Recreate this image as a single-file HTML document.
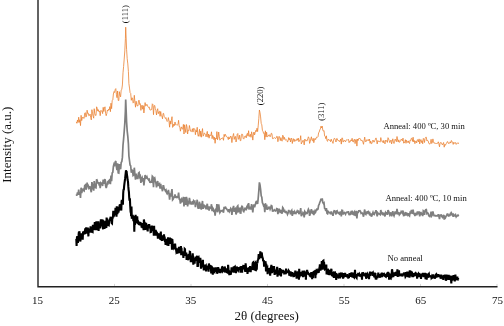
<!DOCTYPE html>
<html><head><meta charset="utf-8"><title>XRD</title>
<style>
html,body{margin:0;padding:0;background:#fff;}
body{width:504px;height:326px;overflow:hidden;font-family:"Liberation Serif",serif;}
svg{display:block}
text{font-family:"Liberation Serif",serif;fill:#111}
</style></head><body>
<svg width="504" height="326" viewBox="0 0 504 326">
<rect width="504" height="326" fill="#fff"/>
<g fill="none" stroke-linejoin="miter" stroke-miterlimit="3">
<polyline points="76.3,194.3 76.9,195.7 77.5,192.4 78.1,194.8 78.7,189.6 79.3,194.8 79.9,192.1 80.5,198.0 81.1,187.7 81.7,193.0 82.3,190.2 82.9,189.4 83.5,190.5 84.1,190.9 84.7,185.6 85.3,185.0 85.9,189.5 86.5,188.5 87.1,182.6 87.7,186.0 88.3,185.6 88.9,188.3 89.5,187.7 90.1,186.5 90.7,189.9 91.3,192.3 91.9,182.1 92.5,185.7 93.1,188.6 93.7,190.6 94.2,181.1 94.8,185.9 95.4,187.7 96.0,187.9 96.6,179.2 97.2,180.6 97.8,183.5 98.4,182.1 99.0,184.3 99.6,183.6 100.2,188.1 100.8,182.9 101.4,183.5 102.0,183.1 102.6,186.0 103.2,179.7 103.8,183.9 104.4,180.5 105.0,179.2 105.6,185.7 106.2,188.1 106.8,185.9 107.4,182.4 108.0,183.3 108.6,181.5 109.2,182.3 109.8,179.0 110.4,184.1 111.0,175.6 111.6,181.1 112.2,173.0 112.8,172.4 113.4,166.4 114.0,164.0 114.6,164.9 115.2,162.0 115.8,161.0 116.4,166.8 117.0,170.1 117.6,163.4 118.2,172.8 118.8,173.0 119.4,164.1 120.0,167.6 120.6,169.2 121.2,162.4 121.8,161.7 122.4,157.4 123.0,145.2 123.6,138.9 124.2,131.5 124.8,123.3 125.4,111.0 125.7,99.6 126.6,122.1 127.2,131.1 127.8,136.3 128.4,143.8 128.9,156.0 129.5,160.5 130.1,165.1 130.7,165.8 131.3,172.7 131.9,170.0 132.5,170.6 133.1,175.5 133.7,174.9 134.3,167.7 134.9,174.2 135.5,179.6 136.1,173.6 136.7,176.8 137.3,178.4 137.9,178.4 138.5,173.1 139.1,172.5 139.7,176.9 140.3,176.1 140.9,182.8 141.5,178.5 142.1,177.5 142.7,181.6 143.3,178.1 143.9,185.4 144.5,180.2 145.1,175.0 145.7,178.3 146.3,177.9 146.9,176.7 147.5,178.6 148.1,178.9 148.7,180.1 149.3,179.5 149.9,182.3 150.5,182.4 151.1,181.9 151.7,182.1 152.3,176.2 152.9,176.9 153.5,187.1 154.1,178.3 154.7,177.8 155.3,180.9 155.9,182.9 156.5,187.4 157.1,183.2 157.7,181.1 158.3,186.1 158.9,184.2 159.5,183.7 160.1,188.7 160.7,183.9 161.3,188.0 161.9,188.4 162.5,191.2 163.1,185.8 163.6,185.8 164.2,188.8 164.8,189.6 165.4,190.9 166.0,190.1 166.6,192.8 167.2,193.9 167.8,193.0 168.4,190.0 169.0,193.5 169.6,199.6 170.2,193.3 170.8,196.5 171.4,192.7 172.0,189.1 172.6,199.8 173.2,199.1 173.8,196.4 174.4,198.0 175.0,194.4 175.6,197.1 176.2,197.5 176.8,196.9 177.4,197.4 178.0,196.8 178.6,192.7 179.2,198.9 179.8,199.0 180.4,203.6 181.0,200.6 181.6,199.3 182.2,201.6 182.8,201.3 183.4,196.8 184.0,206.4 184.6,197.2 185.2,201.2 185.8,204.9 186.4,196.9 187.0,199.2 187.6,206.4 188.2,202.3 188.8,203.0 189.4,197.9 190.0,201.0 190.6,203.7 191.2,204.0 191.8,203.6 192.4,201.1 193.0,204.5 193.6,200.8 194.2,201.5 194.8,201.2 195.4,207.1 196.0,202.7 196.6,204.4 197.2,199.7 197.8,207.0 198.3,208.7 198.9,206.3 199.5,201.7 200.1,208.8 200.7,203.5 201.3,209.6 201.9,205.0 202.5,201.0 203.1,208.6 203.7,207.6 204.3,205.4 204.9,205.9 205.5,206.7 206.1,209.3 206.7,205.9 207.3,203.8 207.9,209.6 208.5,206.4 209.1,210.6 209.7,207.3 210.3,207.6 210.9,208.1 211.5,204.2 212.1,211.1 212.7,207.8 213.3,208.8 213.9,212.1 214.5,209.7 215.1,215.7 215.7,210.4 216.3,211.3 216.9,204.0 217.5,212.2 218.1,209.8 218.7,204.4 219.3,209.1 219.9,212.6 220.5,211.6 221.1,210.8 221.7,211.0 222.3,210.3 222.9,210.3 223.5,212.7 224.1,206.8 224.7,209.0 225.3,206.7 225.9,208.1 226.5,208.6 227.1,209.8 227.7,210.0 228.3,212.0 228.9,209.2 229.5,211.4 230.1,210.2 230.7,208.4 231.3,209.4 231.9,215.0 232.5,209.8 233.0,208.1 233.6,205.9 234.2,211.8 234.8,209.3 235.4,208.7 236.0,214.4 236.6,212.5 237.2,206.6 237.8,205.9 238.4,211.6 239.0,211.3 239.6,207.6 240.2,213.0 240.8,213.1 241.4,207.5 242.0,206.3 242.6,207.0 243.2,210.8 243.8,211.5 244.4,209.8 245.0,208.3 245.6,208.4 246.2,210.3 246.8,206.8 247.4,205.7 248.0,208.6 248.6,203.1 249.2,208.8 249.8,208.6 250.4,206.7 251.0,209.7 251.6,204.2 252.2,207.2 252.8,212.5 253.4,206.4 254.0,204.4 254.6,207.3 255.2,204.9 255.8,202.8 256.4,203.9 257.0,200.6 257.6,204.0 258.2,198.3 258.8,191.1 259.4,182.4 260.0,185.0 260.6,189.3 261.2,195.8 261.8,197.2 262.4,202.7 263.0,203.9 263.6,205.7 264.2,205.2 264.8,212.1 265.4,203.2 266.0,209.5 266.6,204.6 267.2,209.1 267.7,209.1 268.3,208.4 268.9,207.2 269.5,207.3 270.1,209.2 270.7,207.8 271.3,205.6 271.9,206.0 272.5,211.0 273.1,211.1 273.7,210.7 274.3,209.9 274.9,210.6 275.5,210.9 276.1,210.5 276.7,208.7 277.3,208.9 277.9,214.1 278.5,210.7 279.1,208.7 279.7,210.2 280.3,213.0 280.9,210.0 281.5,212.5 282.1,213.6 282.7,207.6 283.3,208.4 283.9,211.9 284.5,209.8 285.1,212.1 285.7,212.5 286.3,211.9 286.9,212.8 287.5,214.5 288.1,213.1 288.7,210.0 289.3,212.2 289.9,210.7 290.5,214.4 291.1,211.4 291.7,210.5 292.3,215.9 292.9,212.6 293.5,211.1 294.1,214.0 294.7,211.8 295.3,213.1 295.9,213.5 296.5,212.4 297.1,211.1 297.7,212.7 298.3,210.5 298.9,214.2 299.5,212.7 300.1,212.6 300.7,208.1 301.3,216.3 301.9,214.8 302.4,214.5 303.0,212.6 303.6,213.5 304.2,217.3 304.8,211.4 305.4,212.3 306.0,213.6 306.6,212.8 307.2,213.2 307.8,211.0 308.4,209.2 309.0,210.5 309.6,215.8 310.2,214.1 310.8,211.3 311.4,209.2 312.0,212.8 312.6,213.3 313.2,210.7 313.8,215.1 314.4,212.4 315.0,210.8 315.6,212.0 316.2,210.3 316.8,209.3 317.4,209.7 318.0,209.1 318.6,205.3 319.2,204.4 319.8,202.3 320.4,201.3 321.0,198.6 321.6,200.4 322.2,198.5 322.8,202.5 323.4,203.5 324.0,202.9 324.6,208.3 325.2,208.7 325.8,211.1 326.4,208.2 327.0,213.2 327.6,213.7 328.2,211.5 328.8,212.2 329.4,212.6 330.0,212.6 330.6,214.1 331.2,211.5 331.8,213.6 332.4,214.0 333.0,215.8 333.6,211.9 334.2,210.8 334.8,210.9 335.4,212.7 336.0,214.4 336.6,211.1 337.1,210.8 337.7,212.7 338.3,213.1 338.9,212.6 339.5,214.1 340.1,213.5 340.7,211.4 341.3,216.5 341.9,210.3 342.5,210.5 343.1,214.5 343.7,213.2 344.3,212.6 344.9,213.4 345.5,214.3 346.1,212.5 346.7,212.2 347.3,212.5 347.9,211.9 348.5,211.9 349.1,215.1 349.7,213.7 350.3,214.1 350.9,212.3 351.5,213.2 352.1,210.7 352.7,214.0 353.3,214.4 353.9,212.3 354.5,211.6 355.1,216.0 355.7,212.1 356.3,211.8 356.9,218.5 357.5,211.4 358.1,213.0 358.7,210.9 359.3,210.9 359.9,210.7 360.5,211.5 361.1,213.3 361.7,212.8 362.3,212.9 362.9,214.4 363.5,216.7 364.1,213.0 364.7,209.5 365.3,213.8 365.9,214.4 366.5,212.4 367.1,212.0 367.7,212.9 368.3,211.9 368.9,213.2 369.5,211.5 370.1,215.7 370.7,213.5 371.3,216.1 371.8,216.0 372.4,214.0 373.0,212.4 373.6,214.2 374.2,214.5 374.8,212.9 375.4,211.8 376.0,210.3 376.6,213.1 377.2,216.3 377.8,212.9 378.4,213.8 379.0,213.8 379.6,214.0 380.2,214.5 380.8,210.0 381.4,213.0 382.0,213.9 382.6,213.2 383.2,215.3 383.8,212.8 384.4,214.9 385.0,216.3 385.6,212.6 386.2,213.5 386.8,213.0 387.4,214.8 388.0,210.1 388.6,211.2 389.2,213.1 389.8,215.0 390.4,213.8 391.0,212.4 391.6,216.3 392.2,213.9 392.8,211.2 393.4,214.6 394.0,215.9 394.6,213.7 395.2,211.5 395.8,213.0 396.4,214.1 397.0,208.9 397.6,212.4 398.2,214.4 398.8,212.2 399.4,214.8 400.0,214.1 400.6,213.2 401.2,211.5 401.8,212.3 402.4,213.2 403.0,210.5 403.6,215.5 404.2,215.4 404.8,214.2 405.4,212.1 406.0,215.7 406.5,212.7 407.1,213.8 407.7,214.9 408.3,213.3 408.9,215.3 409.5,215.9 410.1,212.5 410.7,212.9 411.3,210.7 411.9,210.7 412.5,213.8 413.1,209.6 413.7,214.3 414.3,212.9 414.9,216.1 415.5,213.7 416.1,213.4 416.7,215.3 417.3,212.2 417.9,212.2 418.5,214.3 419.1,211.3 419.7,216.3 420.3,213.8 420.9,211.9 421.5,214.9 422.1,213.1 422.7,216.2 423.3,210.8 423.9,211.4 424.5,214.9 425.1,210.7 425.7,209.7 426.3,209.6 426.9,213.4 427.5,212.8 428.1,213.2 428.7,215.4 429.3,216.3 429.9,216.6 430.5,214.9 431.1,211.7 431.7,215.9 432.3,215.0 432.9,211.3 433.5,214.2 434.1,215.7 434.7,215.4 435.3,215.8 435.9,215.7 436.5,215.9 437.1,215.8 437.7,215.7 438.3,214.2 438.9,216.2 439.5,219.2 440.1,215.2 440.7,215.0 441.2,214.9 441.8,216.3 442.4,217.3 443.0,216.1 443.6,214.9 444.2,219.6 444.8,216.8 445.4,217.7 446.0,216.3 446.6,215.6 447.2,214.1 447.8,214.1 448.4,215.9 449.0,215.4 449.6,215.6 450.2,214.2 450.8,215.5 451.4,212.9 452.0,213.9 452.6,214.5 453.2,216.8 453.8,214.7 454.4,215.5 455.0,215.9 455.6,214.9 456.2,216.8 456.8,215.9 457.4,215.7 458.0,215.1 458.6,216.3" stroke="#7f7f7f" stroke-width="1.7"/>
<polyline points="76.3,194.3 76.9,195.7 77.5,192.4 78.1,194.8 78.7,189.6 79.3,194.8 79.9,192.1 80.5,198.0 81.1,187.7 81.7,193.0 82.3,190.2 82.9,189.4 83.5,190.5 84.1,190.9 84.7,185.6 85.3,185.0 85.9,189.5 86.5,188.5 87.1,182.6 87.7,186.0 88.3,185.6 88.9,188.3 89.5,187.7 90.1,186.5 90.7,189.9 91.3,192.3 91.9,182.1 92.5,185.7 93.1,188.6 93.7,190.6 94.2,181.1 94.8,185.9 95.4,187.7 96.0,187.9 96.6,179.2 97.2,180.6 97.8,183.5 98.4,182.1 99.0,184.3 99.6,183.6 100.2,188.1 100.8,182.9 101.4,183.5 102.0,183.1 102.6,186.0 103.2,179.7 103.8,183.9 104.4,180.5 105.0,179.2 105.6,185.7 106.2,188.1 106.8,185.9 107.4,182.4 108.0,183.3 108.6,181.5 109.2,182.3 109.8,179.0 110.4,184.1 111.0,175.6 111.6,181.1 112.2,173.0 112.8,172.4 113.4,166.4 114.0,164.0 114.6,164.9 115.2,162.0 115.8,161.0 116.4,166.8 117.0,170.1 117.6,163.4 118.2,172.8 118.8,173.0 119.4,164.1 120.0,167.6 120.6,169.2 121.2,162.4 121.8,161.7 122.4,157.4 123.0,145.2 123.6,138.9 124.2,131.5 124.8,123.3 125.4,111.0 125.7,99.6 126.6,122.1 127.2,131.1 127.8,136.3 128.4,143.8 128.9,156.0 129.5,160.5 130.1,165.1 130.7,165.8 131.3,172.7 131.9,170.0 132.5,170.6 133.1,175.5 133.7,174.9 134.3,167.7 134.9,174.2 135.5,179.6 136.1,173.6 136.7,176.8 137.3,178.4 137.9,178.4 138.5,173.1 139.1,172.5 139.7,176.9 140.3,176.1 140.9,182.8 141.5,178.5 142.1,177.5 142.7,181.6 143.3,178.1 143.9,185.4 144.5,180.2 145.1,175.0 145.7,178.3 146.3,177.9 146.9,176.7 147.5,178.6 148.1,178.9 148.7,180.1 149.3,179.5 149.9,182.3 150.5,182.4 151.1,181.9 151.7,182.1 152.3,176.2 152.9,176.9 153.5,187.1 154.1,178.3 154.7,177.8 155.3,180.9 155.9,182.9 156.5,187.4 157.1,183.2 157.7,181.1 158.3,186.1 158.9,184.2 159.5,183.7 160.1,188.7 160.7,183.9 161.3,188.0 161.9,188.4 162.5,191.2 163.1,185.8 163.6,185.8 164.2,188.8 164.8,189.6 165.4,190.9 166.0,190.1 166.6,192.8 167.2,193.9 167.8,193.0 168.4,190.0 169.0,193.5 169.6,199.6 170.2,193.3 170.8,196.5 171.4,192.7 172.0,189.1 172.6,199.8 173.2,199.1 173.8,196.4 174.4,198.0 175.0,194.4 175.6,197.1 176.2,197.5 176.8,196.9 177.4,197.4 178.0,196.8 178.6,192.7 179.2,198.9 179.8,199.0 180.4,203.6 181.0,200.6 181.6,199.3 182.2,201.6 182.8,201.3 183.4,196.8 184.0,206.4 184.6,197.2 185.2,201.2 185.8,204.9 186.4,196.9 187.0,199.2 187.6,206.4 188.2,202.3 188.8,203.0 189.4,197.9 190.0,201.0 190.6,203.7 191.2,204.0 191.8,203.6 192.4,201.1 193.0,204.5 193.6,200.8 194.2,201.5 194.8,201.2 195.4,207.1 196.0,202.7 196.6,204.4 197.2,199.7 197.8,207.0 198.3,208.7 198.9,206.3 199.5,201.7 200.1,208.8 200.7,203.5 201.3,209.6 201.9,205.0 202.5,201.0 203.1,208.6 203.7,207.6 204.3,205.4 204.9,205.9 205.5,206.7 206.1,209.3 206.7,205.9 207.3,203.8 207.9,209.6 208.5,206.4 209.1,210.6 209.7,207.3 210.3,207.6 210.9,208.1 211.5,204.2 212.1,211.1 212.7,207.8 213.3,208.8 213.9,212.1 214.5,209.7 215.1,215.7 215.7,210.4 216.3,211.3 216.9,204.0 217.5,212.2 218.1,209.8 218.7,204.4 219.3,209.1 219.9,212.6 220.5,211.6 221.1,210.8 221.7,211.0 222.3,210.3 222.9,210.3 223.5,212.7 224.1,206.8 224.7,209.0 225.3,206.7 225.9,208.1 226.5,208.6 227.1,209.8 227.7,210.0 228.3,212.0 228.9,209.2 229.5,211.4 230.1,210.2 230.7,208.4 231.3,209.4 231.9,215.0 232.5,209.8 233.0,208.1 233.6,205.9 234.2,211.8 234.8,209.3 235.4,208.7 236.0,214.4 236.6,212.5 237.2,206.6 237.8,205.9 238.4,211.6 239.0,211.3 239.6,207.6 240.2,213.0 240.8,213.1 241.4,207.5 242.0,206.3 242.6,207.0 243.2,210.8 243.8,211.5 244.4,209.8 245.0,208.3 245.6,208.4 246.2,210.3 246.8,206.8 247.4,205.7 248.0,208.6 248.6,203.1 249.2,208.8 249.8,208.6 250.4,206.7 251.0,209.7 251.6,204.2 252.2,207.2 252.8,212.5 253.4,206.4 254.0,204.4 254.6,207.3 255.2,204.9 255.8,202.8 256.4,203.9 257.0,200.6 257.6,204.0 258.2,198.3 258.8,191.1 259.4,182.4 260.0,185.0 260.6,189.3 261.2,195.8 261.8,197.2 262.4,202.7 263.0,203.9 263.6,205.7 264.2,205.2 264.8,212.1 265.4,203.2 266.0,209.5 266.6,204.6 267.2,209.1 267.7,209.1 268.3,208.4 268.9,207.2 269.5,207.3 270.1,209.2 270.7,207.8 271.3,205.6 271.9,206.0 272.5,211.0 273.1,211.1 273.7,210.7 274.3,209.9 274.9,210.6 275.5,210.9 276.1,210.5 276.7,208.7 277.3,208.9 277.9,214.1 278.5,210.7 279.1,208.7 279.7,210.2 280.3,213.0 280.9,210.0 281.5,212.5 282.1,213.6 282.7,207.6 283.3,208.4 283.9,211.9 284.5,209.8 285.1,212.1 285.7,212.5 286.3,211.9 286.9,212.8 287.5,214.5 288.1,213.1 288.7,210.0 289.3,212.2 289.9,210.7 290.5,214.4 291.1,211.4 291.7,210.5 292.3,215.9 292.9,212.6 293.5,211.1 294.1,214.0 294.7,211.8 295.3,213.1 295.9,213.5 296.5,212.4 297.1,211.1 297.7,212.7 298.3,210.5 298.9,214.2 299.5,212.7 300.1,212.6 300.7,208.1 301.3,216.3 301.9,214.8 302.4,214.5 303.0,212.6 303.6,213.5 304.2,217.3 304.8,211.4 305.4,212.3 306.0,213.6 306.6,212.8 307.2,213.2 307.8,211.0 308.4,209.2 309.0,210.5 309.6,215.8 310.2,214.1 310.8,211.3 311.4,209.2 312.0,212.8 312.6,213.3 313.2,210.7 313.8,215.1 314.4,212.4 315.0,210.8 315.6,212.0 316.2,210.3 316.8,209.3 317.4,209.7 318.0,209.1 318.6,205.3 319.2,204.4 319.8,202.3 320.4,201.3 321.0,198.6 321.6,200.4 322.2,198.5 322.8,202.5 323.4,203.5 324.0,202.9 324.6,208.3 325.2,208.7 325.8,211.1 326.4,208.2 327.0,213.2 327.6,213.7 328.2,211.5 328.8,212.2 329.4,212.6 330.0,212.6 330.6,214.1 331.2,211.5 331.8,213.6 332.4,214.0 333.0,215.8 333.6,211.9 334.2,210.8 334.8,210.9 335.4,212.7 336.0,214.4 336.6,211.1 337.1,210.8 337.7,212.7 338.3,213.1 338.9,212.6 339.5,214.1 340.1,213.5 340.7,211.4 341.3,216.5 341.9,210.3 342.5,210.5 343.1,214.5 343.7,213.2 344.3,212.6 344.9,213.4 345.5,214.3 346.1,212.5 346.7,212.2 347.3,212.5 347.9,211.9 348.5,211.9 349.1,215.1 349.7,213.7 350.3,214.1 350.9,212.3 351.5,213.2 352.1,210.7 352.7,214.0 353.3,214.4 353.9,212.3 354.5,211.6 355.1,216.0 355.7,212.1 356.3,211.8 356.9,218.5 357.5,211.4 358.1,213.0 358.7,210.9 359.3,210.9 359.9,210.7 360.5,211.5 361.1,213.3 361.7,212.8 362.3,212.9 362.9,214.4 363.5,216.7 364.1,213.0 364.7,209.5 365.3,213.8 365.9,214.4 366.5,212.4 367.1,212.0 367.7,212.9 368.3,211.9 368.9,213.2 369.5,211.5 370.1,215.7 370.7,213.5 371.3,216.1 371.8,216.0 372.4,214.0 373.0,212.4 373.6,214.2 374.2,214.5 374.8,212.9 375.4,211.8 376.0,210.3 376.6,213.1 377.2,216.3 377.8,212.9 378.4,213.8 379.0,213.8 379.6,214.0 380.2,214.5 380.8,210.0 381.4,213.0 382.0,213.9 382.6,213.2 383.2,215.3 383.8,212.8 384.4,214.9 385.0,216.3 385.6,212.6 386.2,213.5 386.8,213.0 387.4,214.8 388.0,210.1 388.6,211.2 389.2,213.1 389.8,215.0 390.4,213.8 391.0,212.4 391.6,216.3 392.2,213.9 392.8,211.2 393.4,214.6 394.0,215.9 394.6,213.7 395.2,211.5 395.8,213.0 396.4,214.1 397.0,208.9 397.6,212.4 398.2,214.4 398.8,212.2 399.4,214.8 400.0,214.1 400.6,213.2 401.2,211.5 401.8,212.3 402.4,213.2 403.0,210.5 403.6,215.5 404.2,215.4 404.8,214.2 405.4,212.1 406.0,215.7 406.5,212.7 407.1,213.8 407.7,214.9 408.3,213.3 408.9,215.3 409.5,215.9 410.1,212.5 410.7,212.9 411.3,210.7 411.9,210.7 412.5,213.8 413.1,209.6 413.7,214.3 414.3,212.9 414.9,216.1 415.5,213.7 416.1,213.4 416.7,215.3 417.3,212.2 417.9,212.2 418.5,214.3 419.1,211.3 419.7,216.3 420.3,213.8 420.9,211.9 421.5,214.9 422.1,213.1 422.7,216.2 423.3,210.8 423.9,211.4 424.5,214.9 425.1,210.7 425.7,209.7 426.3,209.6 426.9,213.4 427.5,212.8 428.1,213.2 428.7,215.4 429.3,216.3 429.9,216.6 430.5,214.9 431.1,211.7 431.7,215.9 432.3,215.0 432.9,211.3 433.5,214.2 434.1,215.7 434.7,215.4 435.3,215.8 435.9,215.7 436.5,215.9 437.1,215.8 437.7,215.7 438.3,214.2 438.9,216.2 439.5,219.2 440.1,215.2 440.7,215.0 441.2,214.9 441.8,216.3 442.4,217.3 443.0,216.1 443.6,214.9 444.2,219.6 444.8,216.8 445.4,217.7 446.0,216.3 446.6,215.6 447.2,214.1 447.8,214.1 448.4,215.9 449.0,215.4 449.6,215.6 450.2,214.2 450.8,215.5 451.4,212.9 452.0,213.9 452.6,214.5 453.2,216.8 453.8,214.7 454.4,215.5 455.0,215.9 455.6,214.9 456.2,216.8 456.8,215.9 457.4,215.7 458.0,215.1 458.6,216.3" transform="translate(0,-72.4)" stroke="#ea8232" stroke-width="0.8"/>
<polyline points="76.3,239.0 76.6,246.0 76.9,238.0 77.3,236.1 77.6,236.7 77.9,243.0 78.2,237.9 78.5,235.9 78.9,231.8 79.2,233.5 79.5,231.2 79.8,237.0 80.1,240.1 80.4,241.4 80.8,235.3 81.1,236.6 81.4,233.2 81.7,238.3 82.0,236.3 82.4,235.3 82.7,239.7 83.0,232.6 83.3,231.5 83.6,234.7 84.0,232.2 84.3,231.8 84.6,233.2 84.9,234.3 85.2,228.3 85.5,230.8 85.9,231.0 86.2,227.4 86.5,233.6 86.8,232.1 87.1,232.8 87.5,229.7 87.8,227.6 88.1,231.6 88.4,236.4 88.7,229.5 89.1,231.7 89.4,228.5 89.7,232.5 90.0,231.0 90.3,229.5 90.6,226.4 91.0,230.2 91.3,232.1 91.6,229.2 91.9,232.7 92.2,231.8 92.6,232.0 92.9,224.7 93.2,226.7 93.5,228.5 93.8,228.7 94.2,227.5 94.5,226.7 94.8,222.1 95.1,230.3 95.4,226.0 95.7,225.8 96.1,226.9 96.4,221.2 96.7,230.3 97.0,225.7 97.3,228.5 97.7,224.7 98.0,223.4 98.3,221.4 98.6,231.0 98.9,223.7 99.3,226.5 99.6,227.7 99.9,225.6 100.2,228.4 100.5,223.4 100.9,219.4 101.2,221.0 101.5,223.7 101.8,226.4 102.1,219.5 102.4,221.1 102.8,226.5 103.1,229.3 103.4,223.1 103.7,222.4 104.0,223.4 104.4,228.8 104.7,226.2 105.0,223.4 105.3,228.2 105.6,220.8 106.0,223.6 106.3,228.0 106.6,217.5 106.9,220.5 107.2,220.3 107.5,221.6 107.9,224.4 108.2,226.0 108.5,224.9 108.8,225.1 109.1,222.5 109.5,219.9 109.8,218.7 110.1,220.7 110.4,218.0 110.7,216.8 111.1,220.8 111.4,216.8 111.7,223.1 112.0,223.4 112.3,218.8 112.6,218.4 113.0,216.1 113.3,210.7 113.6,217.2 113.9,214.3 114.2,214.5 114.6,212.9 114.9,215.0 115.2,214.2 115.5,207.7 115.8,210.3 116.2,211.9 116.5,216.8 116.8,206.3 117.1,212.4 117.4,214.1 117.8,206.7 118.1,209.4 118.4,212.7 118.7,210.8 119.0,210.0 119.3,208.2 119.7,204.5 120.0,207.2 120.3,204.0 120.6,209.6 120.9,207.8 121.3,210.5 121.6,201.3 121.9,199.9 122.2,202.1 122.5,201.5 122.9,204.7 123.2,193.7 123.5,189.3 123.8,190.4 124.1,186.5 124.4,183.8 124.8,180.8 125.1,178.7 125.4,175.9 125.7,173.2 126.0,170.3 126.4,172.6 126.7,172.5 127.0,175.3 127.3,176.8 127.6,180.0 128.0,181.6 128.3,186.4 128.6,189.8 128.9,191.9 129.2,197.3 129.5,200.6 129.9,198.3 130.2,205.8 130.5,210.3 130.8,210.0 131.1,216.1 131.5,206.6 131.8,218.8 132.1,215.0 132.4,217.0 132.7,214.8 133.1,218.0 133.4,221.2 133.7,217.0 134.0,216.1 134.3,231.8 134.6,220.7 135.0,225.0 135.3,218.4 135.6,214.9 135.9,222.0 136.2,222.2 136.6,222.4 136.9,219.8 137.2,216.3 137.5,221.0 137.8,220.2 138.2,223.9 138.5,221.4 138.8,225.0 139.1,222.2 139.4,225.2 139.8,221.9 140.1,225.4 140.4,223.8 140.7,222.5 141.0,224.9 141.3,224.4 141.7,227.7 142.0,224.1 142.3,224.1 142.6,228.2 142.9,225.7 143.3,225.5 143.6,230.3 143.9,219.5 144.2,221.6 144.5,224.0 144.9,222.2 145.2,229.9 145.5,226.9 145.8,224.7 146.1,222.9 146.4,228.1 146.8,227.8 147.1,225.4 147.4,229.7 147.7,231.4 148.0,225.0 148.4,228.2 148.7,224.2 149.0,228.2 149.3,224.5 149.6,226.8 150.0,228.2 150.3,226.6 150.6,232.0 150.9,231.9 151.2,231.8 151.5,228.0 151.9,225.6 152.2,229.6 152.5,229.7 152.8,228.6 153.1,228.1 153.5,227.4 153.8,235.8 154.1,225.9 154.4,233.4 154.7,230.4 155.1,234.0 155.4,235.5 155.7,229.8 156.0,232.5 156.3,232.0 156.6,232.3 157.0,232.8 157.3,235.3 157.6,234.6 157.9,238.6 158.2,236.3 158.6,235.0 158.9,235.4 159.2,233.4 159.5,236.8 159.8,234.6 160.2,239.6 160.5,237.9 160.8,231.5 161.1,239.4 161.4,239.6 161.8,238.7 162.1,240.9 162.4,235.2 162.7,240.2 163.0,237.6 163.3,240.3 163.7,238.2 164.0,234.4 164.3,239.7 164.6,236.5 164.9,241.1 165.3,241.4 165.6,244.8 165.9,242.7 166.2,240.7 166.5,238.8 166.9,241.9 167.2,245.5 167.5,240.0 167.8,241.2 168.1,237.4 168.4,246.0 168.8,239.9 169.1,239.8 169.4,238.2 169.7,243.9 170.0,237.6 170.4,242.6 170.7,240.1 171.0,242.5 171.3,238.3 171.6,240.4 172.0,249.8 172.3,239.1 172.6,242.2 172.9,247.0 173.2,247.4 173.5,244.0 173.9,246.0 174.2,248.2 174.5,247.9 174.8,245.6 175.1,243.6 175.5,248.1 175.8,248.3 176.1,249.9 176.4,252.0 176.7,251.5 177.1,251.2 177.4,248.4 177.7,252.7 178.0,252.6 178.3,252.2 178.7,248.9 179.0,246.9 179.3,249.4 179.6,250.9 179.9,250.5 180.2,252.8 180.6,251.7 180.9,246.0 181.2,255.2 181.5,247.9 181.8,255.1 182.2,252.9 182.5,253.7 182.8,251.5 183.1,253.8 183.4,257.8 183.8,252.3 184.1,254.9 184.4,254.7 184.7,248.8 185.0,249.1 185.3,255.8 185.7,253.5 186.0,255.0 186.3,252.6 186.6,260.0 186.9,256.8 187.3,258.9 187.6,254.4 187.9,258.9 188.2,257.0 188.5,258.9 188.9,258.5 189.2,253.7 189.5,258.5 189.8,251.8 190.1,251.9 190.4,257.0 190.8,262.2 191.1,259.4 191.4,259.6 191.7,260.0 192.0,255.5 192.4,260.0 192.7,253.4 193.0,257.0 193.3,264.6 193.6,261.5 194.0,262.5 194.3,258.1 194.6,263.6 194.9,260.3 195.2,259.9 195.5,256.6 195.9,258.5 196.2,259.0 196.5,257.6 196.8,259.0 197.1,255.7 197.5,266.9 197.8,263.4 198.1,266.6 198.4,258.1 198.7,257.6 199.1,259.4 199.4,261.9 199.7,261.9 200.0,261.8 200.3,257.9 200.7,261.5 201.0,268.6 201.3,260.9 201.6,267.3 201.9,264.9 202.2,266.1 202.6,267.0 202.9,259.8 203.2,266.7 203.5,265.8 203.8,270.4 204.2,266.1 204.5,267.7 204.8,265.9 205.1,264.7 205.4,266.4 205.8,265.9 206.1,271.5 206.4,267.1 206.7,267.7 207.0,268.8 207.3,265.5 207.7,266.6 208.0,268.1 208.3,268.8 208.6,271.7 208.9,263.5 209.3,266.6 209.6,266.4 209.9,268.8 210.2,268.2 210.5,265.2 210.9,266.9 211.2,273.4 211.5,266.8 211.8,266.8 212.1,267.7 212.4,271.3 212.8,274.7 213.1,271.0 213.4,267.6 213.7,268.8 214.0,271.8 214.4,272.1 214.7,267.6 215.0,268.7 215.3,269.8 215.6,270.2 216.0,267.4 216.3,270.9 216.6,271.4 216.9,271.6 217.2,273.7 217.6,271.9 217.9,269.6 218.2,267.1 218.5,269.9 218.8,268.7 219.1,272.4 219.5,270.0 219.8,272.9 220.1,269.2 220.4,273.2 220.7,268.9 221.1,270.6 221.4,272.3 221.7,270.0 222.0,267.3 222.3,267.2 222.7,268.4 223.0,271.0 223.3,270.6 223.6,268.5 223.9,270.1 224.2,270.5 224.6,266.6 224.9,267.4 225.2,270.1 225.5,272.2 225.8,269.5 226.2,270.3 226.5,272.9 226.8,268.2 227.1,269.8 227.4,269.2 227.8,273.6 228.1,264.9 228.4,268.0 228.7,271.8 229.0,270.2 229.3,275.2 229.7,272.4 230.0,272.5 230.3,270.9 230.6,274.7 230.9,273.5 231.3,270.8 231.6,267.4 231.9,268.7 232.2,272.4 232.5,268.0 232.9,269.6 233.2,268.8 233.5,268.8 233.8,266.5 234.1,272.7 234.4,267.2 234.8,266.8 235.1,270.8 235.4,269.0 235.7,269.2 236.0,273.2 236.4,267.9 236.7,266.7 237.0,267.5 237.3,268.0 237.6,269.9 238.0,270.4 238.3,267.8 238.6,268.3 238.9,270.2 239.2,267.2 239.6,268.1 239.9,269.4 240.2,266.7 240.5,272.7 240.8,268.1 241.1,267.1 241.5,267.1 241.8,269.5 242.1,272.6 242.4,266.1 242.7,269.2 243.1,267.0 243.4,265.0 243.7,267.7 244.0,269.2 244.3,266.3 244.7,268.1 245.0,270.4 245.3,271.9 245.6,263.3 245.9,266.4 246.2,270.3 246.6,269.4 246.9,269.9 247.2,267.8 247.5,273.9 247.8,269.0 248.2,272.2 248.5,267.5 248.8,271.6 249.1,268.4 249.4,267.2 249.8,271.0 250.1,266.0 250.4,269.4 250.7,272.2 251.0,267.0 251.3,268.6 251.7,269.5 252.0,268.3 252.3,267.3 252.6,263.9 252.9,262.7 253.3,262.4 253.6,270.2 253.9,263.1 254.2,269.7 254.5,267.2 254.9,263.5 255.2,263.1 255.5,271.0 255.8,264.4 256.1,268.3 256.4,269.4 256.8,268.8 257.1,261.9 257.4,263.2 257.7,260.8 258.0,259.8 258.4,258.3 258.7,254.1 259.0,258.3 259.3,259.2 259.6,254.0 260.0,257.3 260.3,251.3 260.6,256.1 260.9,252.9 261.2,257.9 261.6,252.4 261.9,253.6 262.2,256.5 262.5,258.0 262.8,258.2 263.1,260.5 263.5,260.7 263.8,260.8 264.1,266.6 264.4,263.8 264.7,264.6 265.1,265.7 265.4,261.2 265.7,263.2 266.0,271.5 266.3,263.8 266.7,269.7 267.0,267.8 267.3,267.5 267.6,274.1 267.9,268.8 268.2,272.3 268.6,268.0 268.9,270.0 269.2,270.4 269.5,270.3 269.8,272.3 270.2,275.6 270.5,267.5 270.8,270.6 271.1,266.7 271.4,264.9 271.8,272.4 272.1,272.3 272.4,270.1 272.7,271.6 273.0,266.1 273.3,269.4 273.7,271.0 274.0,266.1 274.3,271.1 274.6,274.8 274.9,271.4 275.3,269.7 275.6,273.6 275.9,270.8 276.2,273.0 276.5,272.8 276.9,268.6 277.2,266.9 277.5,276.7 277.8,271.8 278.1,271.9 278.5,270.3 278.8,275.5 279.1,271.1 279.4,274.3 279.7,268.1 280.0,272.4 280.4,271.2 280.7,273.6 281.0,276.5 281.3,270.3 281.6,270.6 282.0,271.5 282.3,271.2 282.6,271.7 282.9,271.9 283.2,269.9 283.6,273.5 283.9,271.5 284.2,274.5 284.5,270.8 284.8,273.6 285.1,272.9 285.5,272.4 285.8,274.3 286.1,268.5 286.4,273.0 286.7,270.9 287.1,271.7 287.4,271.7 287.7,273.1 288.0,271.4 288.3,273.1 288.7,270.7 289.0,271.1 289.3,275.6 289.6,275.0 289.9,274.1 290.2,273.7 290.6,271.3 290.9,276.5 291.2,275.1 291.5,274.5 291.8,272.2 292.2,273.7 292.5,273.5 292.8,274.8 293.1,275.0 293.4,277.1 293.8,272.9 294.1,276.9 294.4,273.9 294.7,275.7 295.0,274.5 295.3,270.7 295.7,273.7 296.0,273.7 296.3,273.4 296.6,278.6 296.9,273.5 297.3,275.2 297.6,273.1 297.9,273.5 298.2,271.8 298.5,272.7 298.9,279.8 299.2,268.8 299.5,277.3 299.8,274.8 300.1,272.4 300.5,275.7 300.8,275.2 301.1,271.9 301.4,272.6 301.7,273.5 302.0,276.1 302.4,272.9 302.7,270.7 303.0,277.3 303.3,272.3 303.6,273.1 304.0,273.0 304.3,270.6 304.6,276.4 304.9,275.9 305.2,276.0 305.6,274.5 305.9,279.6 306.2,271.6 306.5,274.2 306.8,273.5 307.1,269.8 307.5,272.5 307.8,273.6 308.1,273.7 308.4,273.3 308.7,273.8 309.1,274.2 309.4,273.4 309.7,276.1 310.0,273.7 310.3,276.3 310.7,276.5 311.0,274.1 311.3,272.2 311.6,274.5 311.9,276.1 312.2,279.1 312.6,273.0 312.9,277.9 313.2,273.1 313.5,272.0 313.8,271.9 314.2,272.1 314.5,272.7 314.8,270.4 315.1,273.0 315.4,278.1 315.8,269.8 316.1,274.6 316.4,273.0 316.7,270.6 317.0,270.9 317.3,271.9 317.7,270.8 318.0,271.5 318.3,272.3 318.6,272.9 318.9,271.4 319.3,268.3 319.6,267.4 319.9,264.3 320.2,267.6 320.5,270.7 320.9,267.9 321.2,264.7 321.5,266.7 321.8,261.1 322.1,265.8 322.5,263.8 322.8,269.7 323.1,260.8 323.4,260.6 323.7,267.9 324.0,261.8 324.4,266.3 324.7,264.9 325.0,269.0 325.3,268.7 325.6,268.9 326.0,269.6 326.3,264.5 326.6,274.5 326.9,270.1 327.2,269.1 327.6,271.7 327.9,268.8 328.2,270.0 328.5,274.9 328.8,273.0 329.1,272.6 329.5,275.1 329.8,271.4 330.1,269.8 330.4,273.7 330.7,274.2 331.1,270.2 331.4,268.8 331.7,274.0 332.0,276.2 332.3,274.5 332.7,274.0 333.0,273.6 333.3,277.0 333.6,276.3 333.9,277.8 334.2,275.7 334.6,275.2 334.9,271.5 335.2,273.2 335.5,275.3 335.8,273.1 336.2,279.9 336.5,273.6 336.8,274.7 337.1,275.0 337.4,275.4 337.8,277.2 338.1,277.4 338.4,276.9 338.7,275.8 339.0,275.9 339.4,272.9 339.7,275.0 340.0,278.3 340.3,275.9 340.6,276.3 340.9,275.8 341.3,273.9 341.6,274.2 341.9,272.6 342.2,276.8 342.5,274.7 342.9,277.6 343.2,277.6 343.5,273.0 343.8,274.8 344.1,277.2 344.5,275.0 344.8,275.6 345.1,272.9 345.4,274.9 345.7,276.8 346.0,275.4 346.4,276.0 346.7,276.1 347.0,274.3 347.3,275.8 347.6,275.5 348.0,274.5 348.3,278.6 348.6,276.6 348.9,277.9 349.2,275.5 349.6,273.1 349.9,276.9 350.2,274.5 350.5,276.9 350.8,274.9 351.1,274.4 351.5,272.4 351.8,276.1 352.1,276.5 352.4,276.6 352.7,277.1 353.1,272.7 353.4,275.8 353.7,277.0 354.0,277.3 354.3,273.0 354.7,275.9 355.0,269.9 355.3,276.6 355.6,273.9 355.9,277.0 356.2,277.3 356.6,277.8 356.9,274.2 357.2,275.6 357.5,275.4 357.8,276.5 358.2,272.9 358.5,275.1 358.8,273.0 359.1,274.9 359.4,274.2 359.8,275.1 360.1,276.6 360.4,275.8 360.7,276.0 361.0,275.9 361.4,275.0 361.7,274.1 362.0,279.7 362.3,272.2 362.6,275.6 362.9,274.3 363.3,273.9 363.6,275.3 363.9,275.3 364.2,273.3 364.5,275.1 364.9,276.1 365.2,274.0 365.5,276.4 365.8,272.7 366.1,278.8 366.5,276.4 366.8,274.7 367.1,274.2 367.4,276.0 367.7,276.4 368.0,275.1 368.4,275.9 368.7,275.3 369.0,279.1 369.3,275.6 369.6,274.7 370.0,271.7 370.3,274.3 370.6,276.0 370.9,272.8 371.2,274.0 371.6,271.9 371.9,274.2 372.2,273.5 372.5,272.9 372.8,272.6 373.1,275.9 373.5,274.3 373.8,273.1 374.1,276.4 374.4,276.5 374.7,272.6 375.1,276.2 375.4,273.0 375.7,279.4 376.0,275.7 376.3,279.6 376.7,277.0 377.0,277.8 377.3,275.9 377.6,278.0 377.9,276.8 378.3,272.5 378.6,275.4 378.9,274.1 379.2,275.6 379.5,274.6 379.8,275.5 380.2,277.7 380.5,274.1 380.8,277.2 381.1,273.5 381.4,274.7 381.8,272.6 382.1,277.0 382.4,275.2 382.7,272.8 383.0,275.3 383.4,274.4 383.7,274.3 384.0,274.1 384.3,276.1 384.6,273.9 384.9,276.7 385.3,276.0 385.6,276.6 385.9,276.8 386.2,275.7 386.5,273.8 386.9,276.5 387.2,272.6 387.5,273.8 387.8,276.9 388.1,271.9 388.5,273.4 388.8,272.7 389.1,279.6 389.4,275.6 389.7,275.2 390.0,275.0 390.4,278.2 390.7,278.4 391.0,273.5 391.3,278.1 391.6,274.7 392.0,269.3 392.3,270.9 392.6,274.5 392.9,275.1 393.2,277.1 393.6,272.4 393.9,275.8 394.2,275.0 394.5,273.1 394.8,274.6 395.1,273.9 395.5,274.9 395.8,274.9 396.1,271.8 396.4,273.8 396.7,275.1 397.1,273.6 397.4,269.4 397.7,276.9 398.0,271.5 398.3,275.7 398.7,273.5 399.0,270.4 399.3,276.3 399.6,274.6 399.9,273.7 400.3,275.2 400.6,274.0 400.9,274.9 401.2,275.9 401.5,274.5 401.8,273.6 402.2,275.5 402.5,276.4 402.8,274.7 403.1,274.3 403.4,274.3 403.8,273.1 404.1,275.3 404.4,273.4 404.7,273.5 405.0,274.8 405.4,276.6 405.7,276.1 406.0,272.1 406.3,276.5 406.6,275.3 406.9,274.1 407.3,271.6 407.6,274.3 407.9,277.2 408.2,272.5 408.5,273.5 408.9,272.9 409.2,273.2 409.5,277.6 409.8,270.2 410.1,275.3 410.5,276.0 410.8,270.8 411.1,276.2 411.4,275.7 411.7,272.2 412.0,271.7 412.4,277.2 412.7,273.4 413.0,277.0 413.3,276.0 413.6,274.9 414.0,273.0 414.3,276.3 414.6,275.3 414.9,273.5 415.2,273.3 415.6,274.0 415.9,273.4 416.2,273.9 416.5,275.6 416.8,273.3 417.1,278.6 417.5,274.4 417.8,274.3 418.1,273.9 418.4,275.8 418.7,277.1 419.1,273.0 419.4,274.3 419.7,275.0 420.0,277.2 420.3,275.0 420.7,274.4 421.0,279.0 421.3,275.1 421.6,273.6 421.9,275.8 422.3,275.6 422.6,276.2 422.9,272.8 423.2,274.7 423.5,276.2 423.8,276.2 424.2,273.2 424.5,273.8 424.8,277.2 425.1,272.9 425.4,277.2 425.8,276.8 426.1,279.0 426.4,273.2 426.7,279.8 427.0,275.0 427.4,276.0 427.7,274.3 428.0,277.5 428.3,276.9 428.6,274.2 428.9,273.8 429.3,276.6 429.6,275.4 429.9,276.5 430.2,276.5 430.5,276.4 430.9,276.4 431.2,275.5 431.5,277.9 431.8,277.5 432.1,276.3 432.5,277.0 432.8,276.4 433.1,276.2 433.4,274.4 433.7,277.0 434.0,275.6 434.4,278.6 434.7,277.5 435.0,277.4 435.3,277.6 435.6,277.2 436.0,274.6 436.3,274.3 436.6,275.4 436.9,275.7 437.2,276.5 437.6,276.4 437.9,277.1 438.2,274.0 438.5,276.8 438.8,275.5 439.2,275.6 439.5,275.6 439.8,276.6 440.1,275.2 440.4,277.7 440.7,277.8 441.1,275.6 441.4,275.6 441.7,276.7 442.0,278.5 442.3,277.7 442.7,275.7 443.0,276.6 443.3,280.0 443.6,276.1 443.9,275.2 444.3,277.7 444.6,276.9 444.9,276.9 445.2,274.7 445.5,276.4 445.8,280.7 446.2,278.7 446.5,274.7 446.8,275.9 447.1,275.9 447.4,277.9 447.8,276.5 448.1,279.1 448.4,279.7 448.7,274.8 449.0,279.4 449.4,278.6 449.7,278.8 450.0,278.5 450.3,277.4 450.6,275.7 450.9,277.1 451.3,283.5 451.6,278.4 451.9,277.9 452.2,278.3 452.5,278.7 452.9,275.9 453.2,278.1 453.5,275.1 453.8,277.1 454.1,278.3 454.5,279.5 454.8,281.4 455.1,278.8 455.4,274.6 455.7,279.5 456.0,279.4 456.4,278.2 456.7,279.9 457.0,278.4 457.3,276.7 457.6,279.9 458.0,278.2 458.3,279.5 458.6,279.4" stroke="#000" stroke-width="2.1"/>
</g>
<g stroke="#bbb" stroke-width="0.6"><line x1="114.50" y1="286.7" x2="114.50" y2="283.9"/><line x1="191.00" y1="286.7" x2="191.00" y2="283.9"/><line x1="267.50" y1="286.7" x2="267.50" y2="283.9"/><line x1="344.00" y1="286.7" x2="344.00" y2="283.9"/><line x1="420.50" y1="286.7" x2="420.50" y2="283.9"/><line x1="497.00" y1="286.7" x2="497.00" y2="283.9"/></g>
<path d="M38.0 0V286.7H497.5" fill="none" stroke="#222" stroke-width="1.4"/>
<g font-size="11" text-anchor="middle"><text x="37.5" y="304">15</text><text x="114.2" y="304">25</text><text x="190.8" y="304">35</text><text x="267.5" y="304">45</text><text x="344.2" y="304">55</text><text x="420.8" y="304">65</text><text x="497.5" y="304">75</text></g>
<text x="266.7" y="320.2" font-size="13" text-anchor="middle">2θ (degrees)</text>
<text transform="translate(11.4,144.7) rotate(-90)" font-size="13" text-anchor="middle">Intensity (a.u.)</text>
<g font-size="8.6">
<text x="383.5" y="129.4">Anneal: 400 ºC, 30 min</text>
<text x="385.5" y="201.4">Anneal: 400 ºC, 10 min</text>
<text x="387.6" y="261.3">No anneal</text>
<text transform="translate(127.5,14.2) rotate(-90)" text-anchor="middle">(111)</text>
<text transform="translate(263.4,95.9) rotate(-90)" text-anchor="middle">(220)</text>
<text transform="translate(323.5,111.7) rotate(-90)" text-anchor="middle">(311)</text>
</g>
</svg>
</body></html>
